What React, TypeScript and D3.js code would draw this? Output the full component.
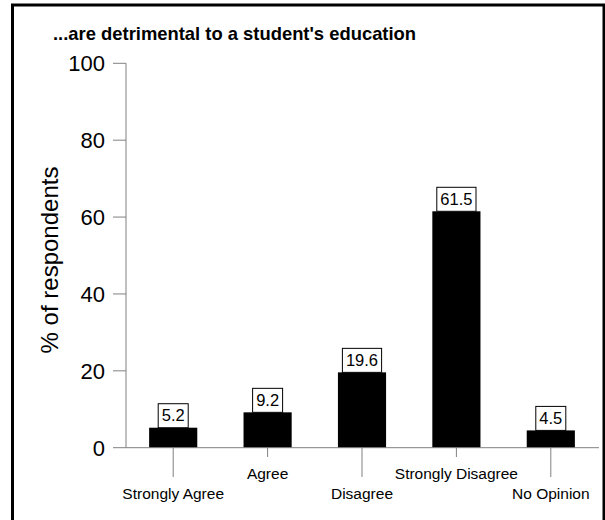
import React from "react";
import * as d3 from "d3";

const categories = ["Strongly Agree", "Agree", "Disagree", "Strongly Disagree", "No Opinion"];
const values = [5.2, 9.2, 19.6, 61.5, 4.5];
const valueLabels = ["5.2", "9.2", "19.6", "61.5", "4.5"];
const yTicks = [0, 20, 40, 60, 80, 100];
const title = "...are detrimental to a student's education";
const yTitle = "% of respondents";

const W = 605;
const H = 520;
const FONT = "'Liberation Sans', Arial, sans-serif";
const AXIS = "#808080";

export default function App() {
  const x = d3
    .scaleBand<string>()
    .domain(categories)
    .range([126, 598])
    .paddingInner(0.49)
    .paddingOuter(0.245);
  const y = d3.scaleLinear().domain([0, 100]).range([447.7, 63.3]);
  const y0 = y(0);

  return (
    <svg
      width={W}
      height={H}
      style={{ position: "absolute", left: 0, top: 0, background: "#fff" }}
      fontFamily={FONT}
    >
      <rect x={12.5} y={5} width={591.5} height={600} fill="#fff" stroke="#000" strokeWidth={3} />
      <text x={53} y={40} fontSize={18.4} fontWeight="bold" fill="#000">
        {title}
      </text>
      <text
        transform={`translate(58,260) rotate(-90)`}
        textAnchor="middle"
        fontSize={24}
        fill="#000"
      >
        {yTitle}
      </text>
      {/* y axis */}
      <line x1={126} x2={126} y1={y(100)} y2={y0} stroke={AXIS} strokeWidth={1} />
      {yTicks.map((t) => (
        <g key={t}>
          <line x1={113} x2={126} y1={y(t)} y2={y(t)} stroke={AXIS} strokeWidth={1} />
          <text x={105} y={y(t)} dy="0.36em" textAnchor="end" fontSize={22} fill="#000">
            {t}
          </text>
        </g>
      ))}
      {/* bars */}
      {categories.map((c, i) => {
        const bx = x(c)!;
        const bw = x.bandwidth();
        const top = y(values[i]);
        const label = valueLabels[i];
        const tw = label.length * 9.2 - (label.includes(".") ? 4.6 : 0);
        const boxW = tw + 7;
        const cx = bx + bw / 2;
        return (
          <g key={c}>
            <rect x={bx} y={top} width={bw} height={y0 - top} fill="#000" />
            <rect
              x={cx - boxW / 2}
              y={top - 24}
              width={boxW}
              height={24}
              fill="#fff"
              stroke="#000"
              strokeWidth={1}
            />
            <text x={cx} y={top - 6.5} textAnchor="middle" fontSize={16.5} fill="#000">
              {label}
            </text>
          </g>
        );
      })}
      {/* x axis */}
      <line x1={126} x2={599} y1={y0} y2={y0} stroke={AXIS} strokeWidth={1} />
      {categories.map((c, i) => {
        const cx = x(c)! + x.bandwidth() / 2;
        const long = i % 2 === 0;
        return (
          <g key={"t" + c}>
            <line x1={cx} x2={cx} y1={y0} y2={long ? 477 : 457} stroke={AXIS} strokeWidth={1} />
            <text x={cx} y={long ? 499 : 479} textAnchor="middle" fontSize={15.5} fill="#000">
              {c}
            </text>
          </g>
        );
      })}
    </svg>
  );
}
